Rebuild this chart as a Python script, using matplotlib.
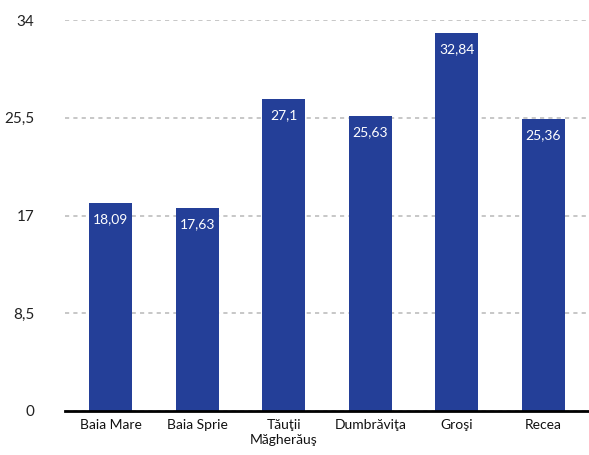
import matplotlib
matplotlib.use("Agg")
import matplotlib.pyplot as plt

categories = ["Baia Mare", "Baia Sprie", "Tăuţii\nMăgherăuş", "Dumbrăviţa", "Groşi", "Recea"]
values = [18.09, 17.63, 27.1, 25.63, 32.84, 25.36]
value_labels = ["18,09", "17,63", "27,1", "25,63", "32,84", "25,36"]
yticks = [0, 8.5, 17, 25.5, 34]
ytick_labels = ["0", "8,5", "17", "25,5", "34"]

plt.rcParams['font.family'] = ['Lato', 'DejaVu Sans']

fig = plt.figure(figsize=(5.89, 4.55), dpi=100)
ax = fig.add_axes([65/589, 1-411/455, 1-65/589, (411-20)/455])

x = list(range(len(categories)))
bars = ax.bar(x, values, width=0.5, color="#243f98", zorder=3)

for xi, v, lab in zip(x, values, value_labels):
    ax.annotate(lab, (xi, v), xytext=(0, -11.5), textcoords="offset points",
                ha="center", va="center", color="white", fontsize=10, zorder=4)

ax.set_xlim(-0.53, 5.53)
ax.set_ylim(0, 34)
ax.set_yticks(yticks)
ax.set_yticklabels(ytick_labels, fontsize=11, color="#222222")
ax.set_xticks(x)
ax.set_xticklabels(categories, fontsize=10, color="#111111", linespacing=1.3)
ax.tick_params(axis="y", length=0, pad=22)
ax.tick_params(axis="x", length=0, pad=6)

ax.yaxis.grid(True, linestyle=(0, (2.5, 2.5)), color="#bdbdbd", linewidth=1.2, zorder=0)
for s in ["top", "right", "left"]:
    ax.spines[s].set_visible(False)
ax.spines["bottom"].set_color("black")
ax.spines["bottom"].set_linewidth(2)
ax.spines["bottom"].set_zorder(5)

fig.savefig("out.png", dpi=100)
